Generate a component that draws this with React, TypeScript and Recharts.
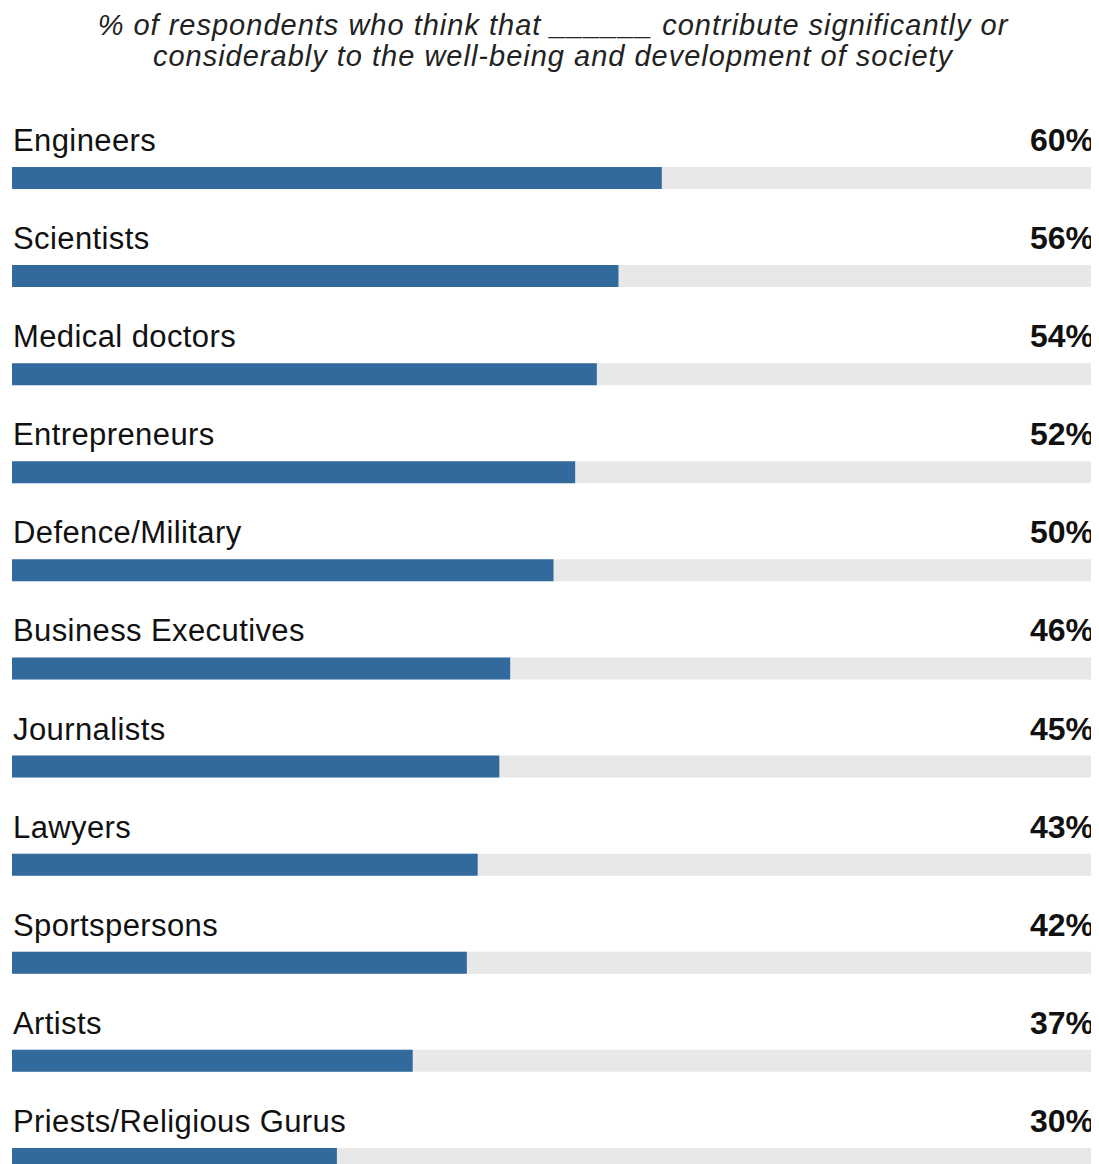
import { BarChart, Bar, XAxis, YAxis, LabelList } from "recharts";

const categories = [
  "Engineers",
  "Scientists",
  "Medical doctors",
  "Entrepreneurs",
  "Defence/Military",
  "Business Executives",
  "Journalists",
  "Lawyers",
  "Sportspersons",
  "Artists",
  "Priests/Religious Gurus",
];

const shares = [60, 56, 54, 52, 50, 46, 45, 43, 42, 37, 30];

const titleLines = [
  "% of respondents who think that ______ contribute significantly or",
  "considerably to the well-being and development of society",
];

const data = categories.map((name, i) => ({ name, value: shares[i] }));

const W = 1091;
const H = 1205;
const margin = { top: 121, right: 4, bottom: 5, left: 4 };
const plotRight = W - margin.right;
const font = "'Liberation Sans', Arial, Helvetica, sans-serif";

const NameLabel = (props: any) => {
  const { x, y, value } = props;
  return (
    <text
      x={x + 1}
      y={y - 16}
      fontSize={31}
      letterSpacing={0.4}
      fontFamily={font}
      fill="#111"
    >
      {value}
    </text>
  );
};

const ValueLabel = (props: any) => {
  const { y, value } = props;
  return (
    <text
      x={plotRight - 1}
      y={y - 16}
      textAnchor="end"
      fontSize={32}
      fontWeight="bold"
      fontFamily={font}
      fill="#111"
    >
      {value}%
    </text>
  );
};

export default function App() {
  return (
    <div>
      <style>{"body{overflow:hidden}"}</style>
      <BarChart width={W} height={H} data={data} layout="vertical" margin={margin}>
        {titleLines.map((line, i) => (
          <text
            key={i}
            x={545}
            y={27 + i * 31}
            textAnchor="middle"
            fontSize={29}
            letterSpacing={1}
            fontStyle="italic"
            fontFamily={font}
            fill="#222"
          >
            {line}
          </text>
        ))}
        <XAxis type="number" domain={[0, 100]} hide />
        <YAxis type="category" dataKey="name" hide />
        <Bar
          dataKey="value"
          fill="#336a9e"
          barSize={22}
          background={{ fill: "#e8e8e8" }}
          isAnimationActive={false}
        >
          <LabelList dataKey="name" content={NameLabel} />
          <LabelList dataKey="value" content={ValueLabel} />
        </Bar>
      </BarChart>
    </div>
  );
}
